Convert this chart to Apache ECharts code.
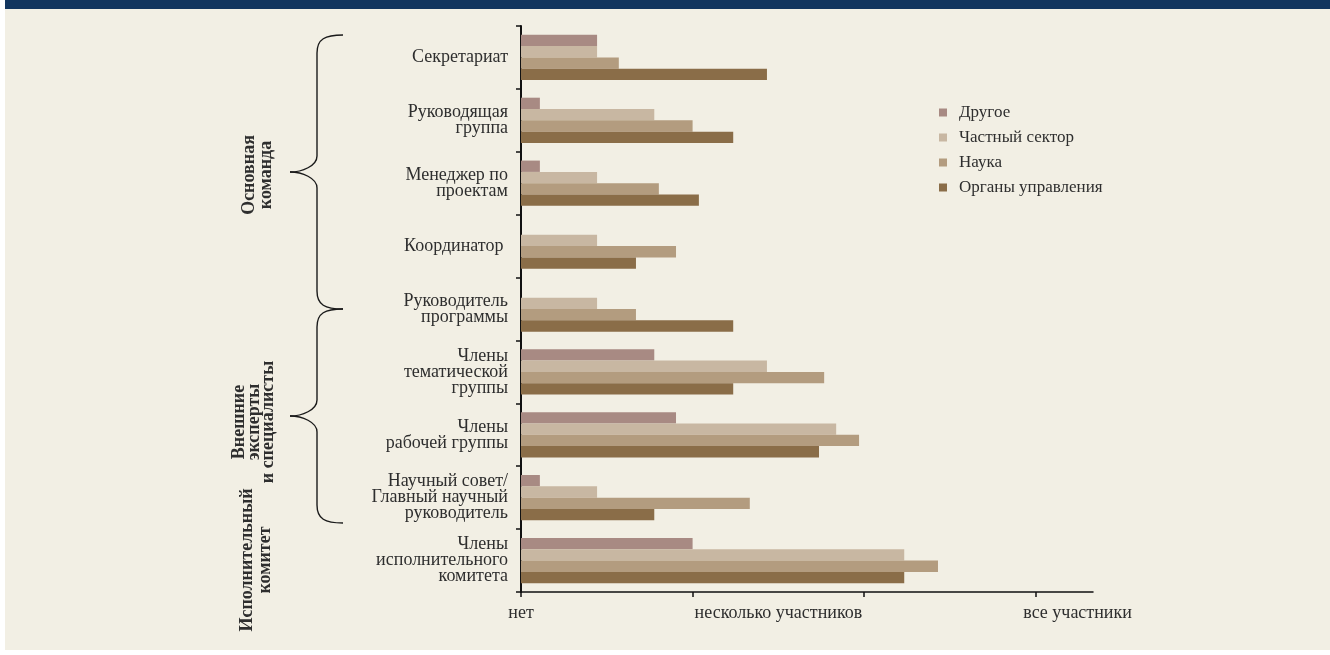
<!DOCTYPE html>
<html>
<head>
<meta charset="utf-8">
<script src="https://cdn.jsdelivr.net/npm/echarts@6/dist/echarts.min.js"></script>
<style>
html,body{margin:0;padding:0;background:#ffffff;}
#c{width:1330px;height:655px;}
</style>
</head>
<body>
<div id="c"></div>
<script>
const categories = ['Секретариат','Руководящая\nгруппа','Менеджер по\nпроектам','Координатор ','Руководитель\nпрограммы','Члены\nтематической\nгруппы','Члены\nрабочей группы','Научный совет/\nГлавный научный\nруководитель','Члены\nисполнительного\nкомитета'];
const seriesNames = ['Другое','Частный сектор','Наука','Органы управления'];
const otherVals   = [13.3, 3.3, 3.3, 0, 0, 23.3, 27.1, 3.3, 30.0];
const privateVals = [13.3, 23.3, 13.3, 13.3, 13.3, 43.0, 55.1, 13.3, 67.0];
const scienceVals = [17.1, 30.0, 24.1, 27.1, 20.1, 53.0, 59.1, 40.0, 72.9];
const govVals     = [43.0, 37.1, 31.1, 20.1, 37.1, 37.1, 52.1, 23.3, 67.0];
const xTickValues = [0, 30, 60, 90];
const xLabelValues = [0, 45, 97.3];
const xLabelTexts = ['нет', 'несколько участников', 'все участники'];
const groupLabels = ['Основная\nкоманда', 'Внешние\nэксперты\nи специалисты', 'Исполнительный\nкомитет'];

const colors = ['#A88A83', '#C8B7A2', '#B39C7F', '#8A6D48'];
const FONT = "'Liberation Serif', 'DejaVu Serif', serif";
const TXT = '#2e2e2e';

const chart = echarts.init(document.getElementById('c'), null, {renderer: 'canvas'});
const allVals = [otherVals, privateVals, scienceVals, govVals];

function brace(y0, ym, y1) {
  const xe = 343, xv = 317, xt = 290;
  const st = {fill: 'none', stroke: '#1a1a1a', lineWidth: 1.4};
  return [
    {type: 'bezierCurve', silent: true, style: st,
      shape: {x1: xe, y1: y0, cpx1: xv + 8, cpy1: y0, cpx2: xv, cpy2: y0 + 4, x2: xv, y2: y0 + 18}},
    {type: 'line', silent: true, style: st, shape: {x1: xv, y1: y0 + 18, x2: xv, y2: ym - 16}},
    {type: 'bezierCurve', silent: true, style: st,
      shape: {x1: xv, y1: ym - 16, cpx1: xv, cpy1: ym - 6, cpx2: xt + 12, cpy2: ym, x2: xt, y2: ym}},
    {type: 'bezierCurve', silent: true, style: st,
      shape: {x1: xt, y1: ym, cpx1: xt + 12, cpy1: ym, cpx2: xv, cpy2: ym + 6, x2: xv, y2: ym + 16}},
    {type: 'line', silent: true, style: st, shape: {x1: xv, y1: ym + 16, x2: xv, y2: y1 - 18}},
    {type: 'bezierCurve', silent: true, style: st,
      shape: {x1: xv, y1: y1 - 18, cpx1: xv, cpy1: y1 - 4, cpx2: xv + 8, cpy2: y1, x2: xe, y2: y1}}
  ];
}

const option = {
  backgroundColor: '#ffffff',
  animation: false,
  textStyle: {fontFamily: FONT},
  grid: {left: 521, right: 237, top: 26, bottom: 63, containLabel: false},
  legend: {
    orient: 'vertical',
    left: 934,
    top: 99,
    itemWidth: 8,
    itemHeight: 8,
    itemGap: 8,
    icon: 'rect',
    data: seriesNames,
    textStyle: {fontFamily: FONT, fontSize: 17, color: TXT, lineHeight: 17, padding: [0, 0, 0, 7]}
  },
  xAxis: {
    type: 'value',
    min: 0,
    max: 100,
    splitLine: {show: false},
    axisLine: {show: true, lineStyle: {color: '#111', width: 1.5}},
    axisTick: {show: true, length: 5, customValues: xTickValues, lineStyle: {color: '#111', width: 1.5}},
    axisLabel: {
      customValues: xLabelValues,
      margin: 12,
      fontFamily: FONT,
      fontSize: 18,
      color: TXT,
      formatter: function (v) {
        const i = xLabelValues.indexOf(v);
        return i >= 0 ? xLabelTexts[i] : '';
      }
    }
  },
  yAxis: {
    type: 'category',
    inverse: true,
    data: categories,
    axisLine: {show: true, lineStyle: {color: '#111', width: 2}},
    axisTick: {show: true, length: 5, lineStyle: {color: '#111', width: 1.5}},
    axisLabel: {margin: 13, fontFamily: FONT, fontSize: 18, lineHeight: 16, color: TXT, align: 'right'}
  },
  series: seriesNames.map((n, i) => ({
    name: n,
    type: 'bar',
    data: allVals[i],
    barGap: '0%',
    barCategoryGap: '28%',
    itemStyle: {color: colors[i]},
    silent: true
  })),
  graphic: [
    {type: 'rect', z: -10, silent: true, shape: {x: 5, y: 0, width: 1325, height: 650}, style: {fill: '#F2EFE4'}},
    {type: 'rect', z: -9, silent: true, shape: {x: 5, y: 0, width: 1325, height: 9}, style: {fill: '#12355E'}}
  ].concat(brace(35, 172, 309), brace(309, 416, 523), [
    {type: 'text', silent: true, x: 258, y: 175, rotation: Math.PI / 2,
      style: {text: groupLabels[0], font: `bold 18px ${FONT}`, fill: TXT, align: 'center', verticalAlign: 'middle', lineHeight: 17}},
    {type: 'text', silent: true, x: 254, y: 422, rotation: Math.PI / 2,
      style: {text: groupLabels[1], font: `bold 18px ${FONT}`, fill: TXT, align: 'center', verticalAlign: 'middle', lineHeight: 14.5}},
    {type: 'text', silent: true, x: 256, y: 560, rotation: Math.PI / 2,
      style: {text: groupLabels[2], font: `bold 18px ${FONT}`, fill: TXT, align: 'center', verticalAlign: 'middle', lineHeight: 18}}
  ])
};
chart.setOption(option);
</script>
</body>
</html>
